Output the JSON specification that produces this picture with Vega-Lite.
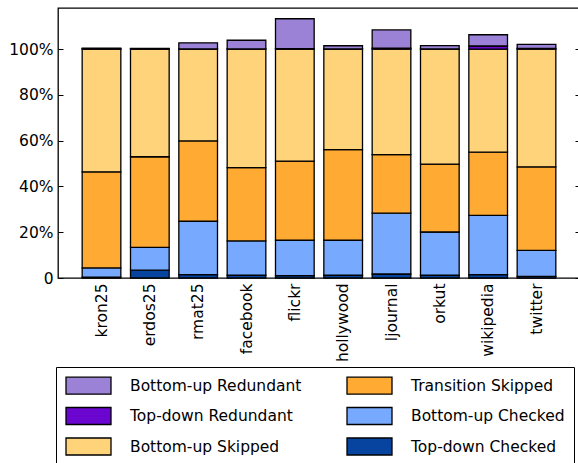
{
  "$schema": "https://vega.github.io/schema/vega-lite/v6.json",
  "width": 522,
  "height": 270,
  "autosize": {"type": "none"},
  "padding": {"left": 58, "top": 8, "right": 0, "bottom": 185},
  "background": "white",
  "config": {
    "font": "DejaVu Sans",
    "view": {"stroke": "black", "strokeWidth": 1.3},
    "axis": {"labelFont": "DejaVu Sans", "labelFontSize": 15.5, "labelColor": "black", "tickColor": "black", "grid": false, "domain": false, "title": null}
  },
  "data": {
    "values": [
      {"graph": "kron25", "category": "Top-down Checked", "value": 0.4},
      {"graph": "kron25", "category": "Bottom-up Checked", "value": 4.0},
      {"graph": "kron25", "category": "Transition Skipped", "value": 42.0},
      {"graph": "kron25", "category": "Bottom-up Skipped", "value": 53.6},
      {"graph": "kron25", "category": "Top-down Redundant", "value": 0.1},
      {"graph": "kron25", "category": "Bottom-up Redundant", "value": 0.3},
      {"graph": "erdos25", "category": "Top-down Checked", "value": 3.4},
      {"graph": "erdos25", "category": "Bottom-up Checked", "value": 10.0},
      {"graph": "erdos25", "category": "Transition Skipped", "value": 39.6},
      {"graph": "erdos25", "category": "Bottom-up Skipped", "value": 47.0},
      {"graph": "erdos25", "category": "Top-down Redundant", "value": 0.1},
      {"graph": "erdos25", "category": "Bottom-up Redundant", "value": 0.2},
      {"graph": "rmat25", "category": "Top-down Checked", "value": 1.5},
      {"graph": "rmat25", "category": "Bottom-up Checked", "value": 23.3},
      {"graph": "rmat25", "category": "Transition Skipped", "value": 35.1},
      {"graph": "rmat25", "category": "Bottom-up Skipped", "value": 40.1},
      {"graph": "rmat25", "category": "Top-down Redundant", "value": 0.1},
      {"graph": "rmat25", "category": "Bottom-up Redundant", "value": 2.7},
      {"graph": "facebook", "category": "Top-down Checked", "value": 1.2},
      {"graph": "facebook", "category": "Bottom-up Checked", "value": 15.0},
      {"graph": "facebook", "category": "Transition Skipped", "value": 32.0},
      {"graph": "facebook", "category": "Bottom-up Skipped", "value": 51.8},
      {"graph": "facebook", "category": "Top-down Redundant", "value": 0.1},
      {"graph": "facebook", "category": "Bottom-up Redundant", "value": 3.8},
      {"graph": "flickr", "category": "Top-down Checked", "value": 1.0},
      {"graph": "flickr", "category": "Bottom-up Checked", "value": 15.5},
      {"graph": "flickr", "category": "Transition Skipped", "value": 34.6},
      {"graph": "flickr", "category": "Bottom-up Skipped", "value": 48.9},
      {"graph": "flickr", "category": "Top-down Redundant", "value": 0.2},
      {"graph": "flickr", "category": "Bottom-up Redundant", "value": 13.1},
      {"graph": "hollywood", "category": "Top-down Checked", "value": 1.2},
      {"graph": "hollywood", "category": "Bottom-up Checked", "value": 15.3},
      {"graph": "hollywood", "category": "Transition Skipped", "value": 39.6},
      {"graph": "hollywood", "category": "Bottom-up Skipped", "value": 43.9},
      {"graph": "hollywood", "category": "Top-down Redundant", "value": 0.1},
      {"graph": "hollywood", "category": "Bottom-up Redundant", "value": 1.4},
      {"graph": "ljournal", "category": "Top-down Checked", "value": 1.75},
      {"graph": "ljournal", "category": "Bottom-up Checked", "value": 26.6},
      {"graph": "ljournal", "category": "Transition Skipped", "value": 25.6},
      {"graph": "ljournal", "category": "Bottom-up Skipped", "value": 46.05},
      {"graph": "ljournal", "category": "Top-down Redundant", "value": 0.4},
      {"graph": "ljournal", "category": "Bottom-up Redundant", "value": 8.0},
      {"graph": "orkut", "category": "Top-down Checked", "value": 1.2},
      {"graph": "orkut", "category": "Bottom-up Checked", "value": 18.9},
      {"graph": "orkut", "category": "Transition Skipped", "value": 29.7},
      {"graph": "orkut", "category": "Bottom-up Skipped", "value": 50.2},
      {"graph": "orkut", "category": "Top-down Redundant", "value": 0.1},
      {"graph": "orkut", "category": "Bottom-up Redundant", "value": 1.5},
      {"graph": "wikipedia", "category": "Top-down Checked", "value": 1.5},
      {"graph": "wikipedia", "category": "Bottom-up Checked", "value": 25.9},
      {"graph": "wikipedia", "category": "Transition Skipped", "value": 27.6},
      {"graph": "wikipedia", "category": "Bottom-up Skipped", "value": 45.0},
      {"graph": "wikipedia", "category": "Top-down Redundant", "value": 1.4},
      {"graph": "wikipedia", "category": "Bottom-up Redundant", "value": 4.9},
      {"graph": "twitter", "category": "Top-down Checked", "value": 0.7},
      {"graph": "twitter", "category": "Bottom-up Checked", "value": 11.4},
      {"graph": "twitter", "category": "Transition Skipped", "value": 36.5},
      {"graph": "twitter", "category": "Bottom-up Skipped", "value": 51.4},
      {"graph": "twitter", "category": "Top-down Redundant", "value": 0.3},
      {"graph": "twitter", "category": "Bottom-up Redundant", "value": 1.8}
    ]
  },
  "layer": [
    {
      "transform": [
        {"calculate": "indexof(['Top-down Checked', 'Bottom-up Checked', 'Transition Skipped', 'Bottom-up Skipped', 'Top-down Redundant', 'Bottom-up Redundant'], datum.category)", "as": "stackRank"}
      ],
      "mark": {"type": "bar", "stroke": "black", "strokeWidth": 1.3},
      "encoding": {
        "x": {
          "field": "graph", "type": "nominal", "sort": null,
          "scale": {"paddingInner": 0.2, "paddingOuter": 0.5},
          "axis": {"labelAngle": -90, "labelPadding": 5, "ticks": false}
        },
        "y": {
          "field": "value", "type": "quantitative", "stack": "zero",
          "scale": {"domain": [0, 118], "nice": false},
          "axis": {"values": [0, 20, 40, 60, 80, 100], "tickSize": -5, "labelPadding": 10, "labelExpr": "datum.value == 0 ? '0' : datum.value + '%'"}
        },
        "color": {
          "field": "category", "type": "nominal",
          "scale": {
            "domain": ["Top-down Checked", "Bottom-up Checked", "Transition Skipped", "Bottom-up Skipped", "Top-down Redundant", "Bottom-up Redundant"],
            "range": ["#0744a0", "#77aaff", "#ffaa33", "#ffd37a", "#6a06cf", "#9b82d6"]
          },
          "legend": {
            "title": null,
            "orient": "none",
            "legendX": -2,
            "legendY": 359,
            "columns": 2,
            "values": ["Bottom-up Redundant", "Top-down Redundant", "Bottom-up Skipped", "Transition Skipped", "Bottom-up Checked", "Top-down Checked"],
            "symbolType": "M-1,-1H4.294V1H-1Z",
            "symbolSize": 289,
            "symbolStrokeColor": "black",
            "symbolStrokeWidth": 1.3,
            "symbolOpacity": 1,
            "labelFont": "DejaVu Sans",
            "labelFontSize": 15.5,
            "labelColor": "black",
            "labelOffset": 46,
            "labelLimit": 400,
            "columnPadding": 42,
            "rowPadding": 7.5,
            "padding": 9,
            "strokeColor": "black",
            "fillColor": "white"
          }
        },
        "order": {"field": "stackRank", "type": "quantitative", "sort": "ascending"}
      }
    },
    {
      "data": {"values": [{"v": 0}]},
      "mark": {"type": "rule", "opacity": 0},
      "encoding": {
        "y": {"field": "v", "type": "quantitative", "axis": {"orient": "right", "values": [0, 20, 40, 60, 80, 100], "labels": false, "tickSize": -5}}
      }
    }
  ],
  "resolve": {"axis": {"y": "independent"}}
}
